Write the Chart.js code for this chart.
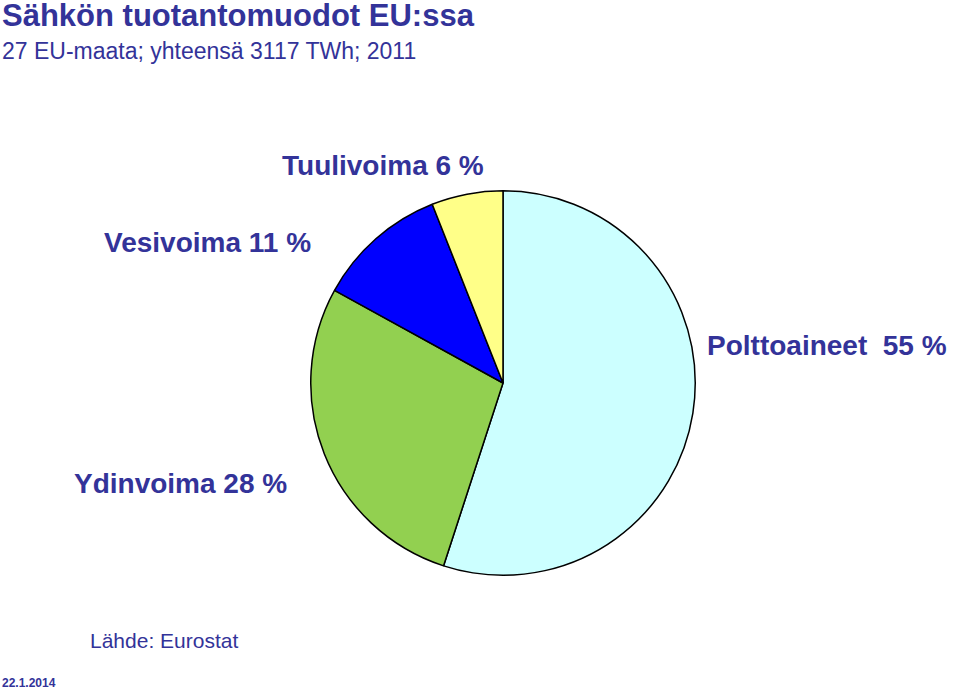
<!DOCTYPE html>
<html><head><meta charset="utf-8">
<script src="https://cdn.jsdelivr.net/npm/chart.js@4"></script>
<style>
body{margin:0;width:960px;height:689px;background:#fff;font-family:"Liberation Sans",Arial,sans-serif;color:#333399;position:relative;overflow:hidden}
.t{position:absolute;white-space:nowrap}
#c{position:absolute;left:308px;top:188px}
</style></head><body>
<div class="t" style="left:2px;top:-2px;font-size:31px;font-weight:bold">Sähkön tuotantomuodot EU:ssa</div>
<div class="t" style="left:2px;top:38px;font-size:23px">27 EU-maata; yhteensä 3117 TWh; 2011</div>
<div class="t" style="left:282px;top:150px;font-size:28px;font-weight:bold">Tuulivoima 6 %</div>
<div class="t" style="left:104px;top:227px;font-size:28px;font-weight:bold">Vesivoima 11 %</div>
<div class="t" style="left:707px;top:330px;font-size:28px;font-weight:bold">Polttoaineet&nbsp; 55 %</div>
<div class="t" style="left:74px;top:468px;font-size:28px;font-weight:bold">Ydinvoima 28 %</div>
<div class="t" style="left:90px;top:629px;font-size:21px">Lähde: Eurostat</div>
<div class="t" style="left:2px;top:676px;font-size:12px;font-weight:bold">22.1.2014</div>
<canvas id="c" width="390" height="390"></canvas>
<script>
const labels = ['Polttoaineet', 'Ydinvoima', 'Vesivoima', 'Tuulivoima'];
const values = [55, 28, 11, 6];
const colours = ['#CCFFFF', '#92D050', '#0000FF', '#FFFF88'];

new Chart(document.getElementById('c'), {
  type: 'pie',
  data: {
    labels,
    datasets: [{ data: values, backgroundColor: colours, borderColor: '#000', borderWidth: 1.5 }]
  },
  options: {
    responsive: false,
    animation: false,
    layout: { padding: 2 },
    plugins: { legend: { display: false }, tooltip: { enabled: false } }
  }
});
</script>
</body></html>
